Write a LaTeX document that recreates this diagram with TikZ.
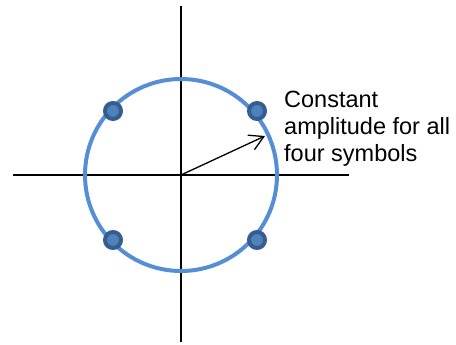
\documentclass[tikz,border=0pt]{standalone}
\usepackage{fontspec}
\setmainfont{Liberation Sans}
\usetikzlibrary{arrows.meta}
\definecolor{ringblue}{RGB}{85,142,213}
\definecolor{dotdark}{RGB}{54,93,146}
\definecolor{dotfill}{RGB}{79,129,189}
\tikzset{
  axis/.style={line width=1.3pt},
  symbol/.style={circle, draw=dotdark, fill=dotfill, line width=4pt,
    minimum size=16pt, inner sep=0pt},
}

\begin{document}
\begin{tikzpicture}[x=1pt,y=-1pt]
\useasboundingbox (0,0) rectangle (456,345);
\coordinate (O) at (181,175);
\coordinate (L) at (13,175);
\coordinate (R) at (349,175);
\coordinate (T) at (181,6);
\coordinate (B) at (181,342);
\coordinate (A) at (265,136);
\draw[axis] (L) -- (R);
\draw[axis] (T) -- (B);
\draw[ringblue, line width=4pt] (O) circle[radius=96pt];
\node[symbol] (s1) at (113,111) {};
\node[symbol] (s2) at (257,111) {};
\node[symbol] (s3) at (113,240) {};
\node[symbol] (s4) at (257,240) {};
\draw[-{Straight Barb[length=14pt,width=16pt]}, line width=1.3pt] (O) -- (A);
\node[anchor=base west, align=left, inner sep=0pt,
  font=\fontsize{23.5}{26.7}\selectfont] (lbl) at (284,161.3)
  {Constant\\amplitude for all\\four symbols};
\end{tikzpicture}
\end{document}
